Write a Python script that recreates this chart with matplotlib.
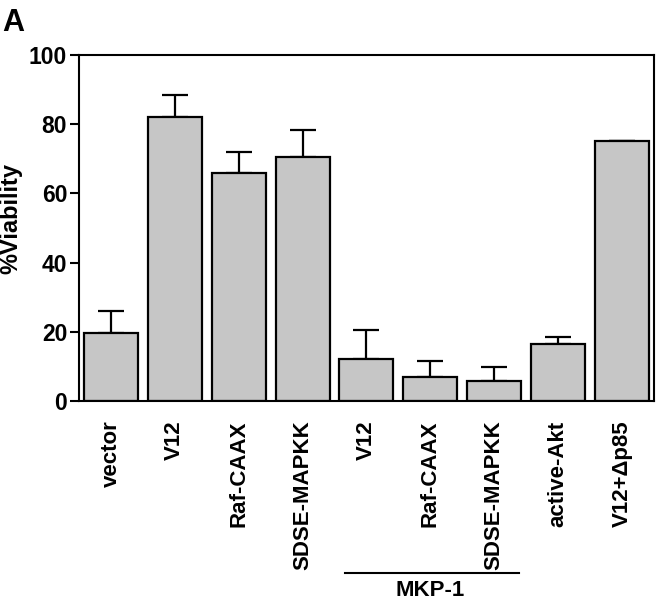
import matplotlib.pyplot as plt
import matplotlib.transforms as mtransforms

plt.rcParams['font.family'] = ['Liberation Sans', 'DejaVu Sans']
plt.rcParams['font.weight'] = 'bold'

labels = ['vector', 'V12', 'Raf-CAAX', 'SDSE-MAPKK', 'V12', 'Raf-CAAX',
          'SDSE-MAPKK', 'active-Akt', 'V12+\u0394p85']
viability = [19.6, 82.2, 66.0, 70.5, 12.1, 6.9, 5.8, 16.6, 75.1]
err_up = [6.4, 6.3, 5.9, 7.8, 8.4, 4.7, 4.0, 1.9, 0]

fig = plt.figure(figsize=(6.57, 6.01), dpi=100)
ax = fig.add_axes([0.1202, 0.3328, 0.8752, 0.5757])

x = list(range(len(labels)))
ax.bar(x, viability, width=0.845, color='#c6c6c6', edgecolor='black', linewidth=1.6, zorder=2)
ax.errorbar(x, viability, yerr=[[0] * len(x), err_up], fmt='none', ecolor='black',
            elinewidth=1.6, capsize=9.5, capthick=1.6, zorder=1)

ax.set_xlim(-0.5, 8.5)
ax.set_ylim(0, 100)
ax.set_yticks([0, 20, 40, 60, 80, 100])
ax.set_xticks(x)
ax.set_xticklabels(labels, rotation=90, fontsize=16, fontweight='bold')
ax.tick_params(axis='x', length=0, pad=14)
ax.tick_params(axis='y', direction='out', length=6.5, width=1.5, labelsize=16.5, pad=2)
for lab in ax.get_yticklabels():
    lab.set_fontweight('bold')
for s in ax.spines.values():
    s.set_linewidth(1.5)

ax.set_ylabel('%Viability', fontsize=17, fontweight='bold')
ax.yaxis.set_label_coords(-0.099, 0.526)

# MKP-1 bracket under bars 5-7
trans = mtransforms.blended_transform_factory(ax.transData, fig.transFigure)
ax.plot([3.66, 6.38], [0.0466, 0.0466], color='black', linewidth=1.5,
        transform=trans, clip_on=False)
ax.text(5.0, 0.008, 'MKP-1', transform=trans, ha='center', va='baseline',
        fontsize=16, fontweight='bold')

fig.text(0.004, 0.987, 'A', fontsize=22, fontweight='bold', va='top', ha='left')

fig.savefig('out.png', dpi=100)
